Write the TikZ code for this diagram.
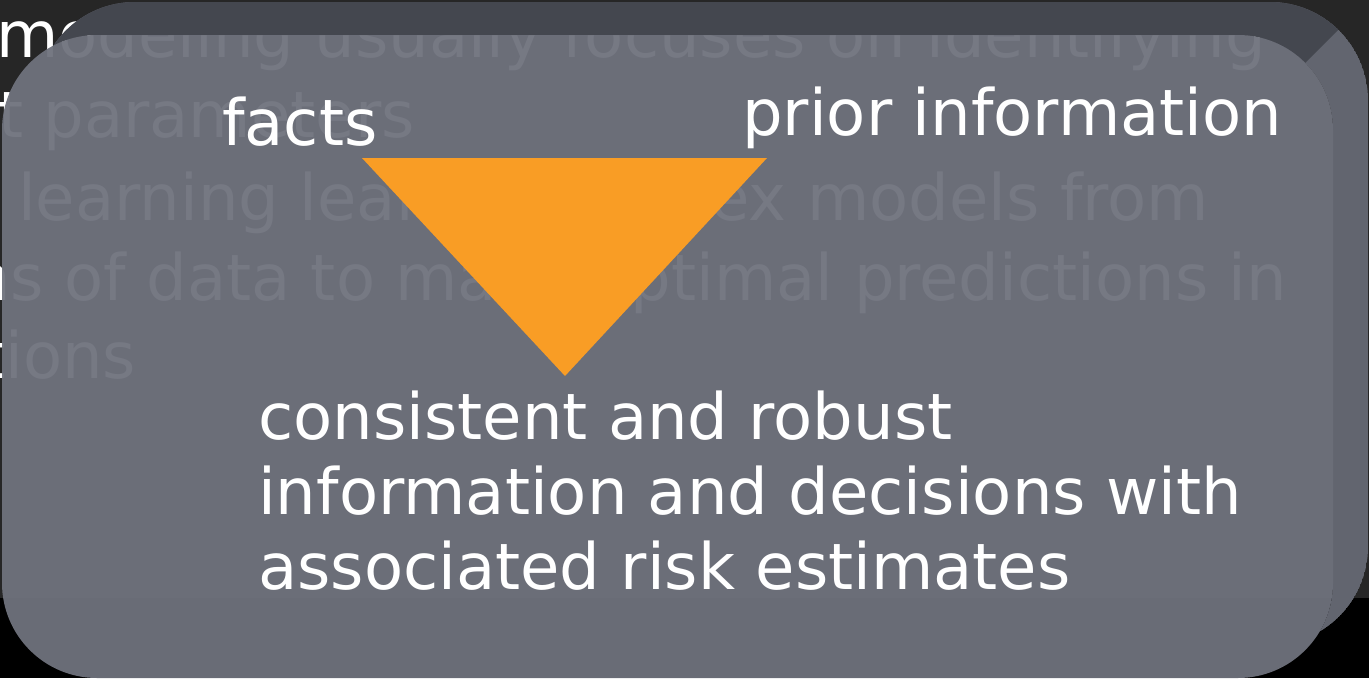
\documentclass[tikz,border=0pt]{standalone}
\usepackage{fontspec}
\setmainfont{DejaVu Sans}
\usepackage{xcolor}
\definecolor{SlideBg}{HTML}{262626}
\definecolor{BoxFace}{HTML}{6F727D}
\definecolor{BoxTop}{HTML}{44474F}
\definecolor{BoxSide}{HTML}{62656F}
\definecolor{Wedge}{HTML}{F99D25}
\tikzset{
  bigtext/.style={text=white,inner sep=0pt,anchor=base west,font=\fontsize{64}{75}\selectfont},
  slidetext/.style={text=white,inner sep=0pt,anchor=base west,font=\fontsize{64}{80}\selectfont}
}

\begin{document}
\begin{tikzpicture}[x=1pt,y=-1pt]
\useasboundingbox (0,0) rectangle (1369,678);
\clip (0,0) rectangle (1369,678);
\fill[black] (0,0) rectangle (1369,678);
\fill[SlideBg] (0,0) rectangle (1369,598);
% slide text behind the box
\node[slidetext] (line1) at (-4,57) {modeling usually focuses on identifying};
\node[slidetext] (line2) at (-2,137) {t parameters};
\node[slidetext] (line3) at (18,220) {learning learns complex models from};
\node[slidetext] (line4) at (-30,300) {ns of data to make optimal predictions in};
\node[slidetext] (line5) at (-20,378) {tions};
% back box
\begin{scope}[even odd rule,rounded corners=95pt]
\clip (-300,-300) rectangle (1669,978) (2,35) rectangle (1333,678);
\begin{scope}[rounded corners=98pt]
\clip (37,2) rectangle (1368,645);
\fill[BoxSide] (37,2) rectangle (1368,645);
\fill[BoxTop,sharp corners] (0,0) -- (1368,0) -- (0,1368) -- cycle;
\end{scope}
\end{scope}
% front box
\fill[BoxFace,fill opacity=.95,rounded corners=95pt] (2,35) rectangle (1333,678);
\fill[Wedge] (362,158) -- (767,158) -- (565,376) -- cycle;
\node[bigtext] (facts) at (222,145) {facts};
\node[bigtext] (prior) at (742,135) {prior information};
\node[bigtext,anchor=north west,align=left] (result) at (258,391) {consistent and robust\\information and decisions with\\associated risk estimates};
\end{tikzpicture}
\end{document}
